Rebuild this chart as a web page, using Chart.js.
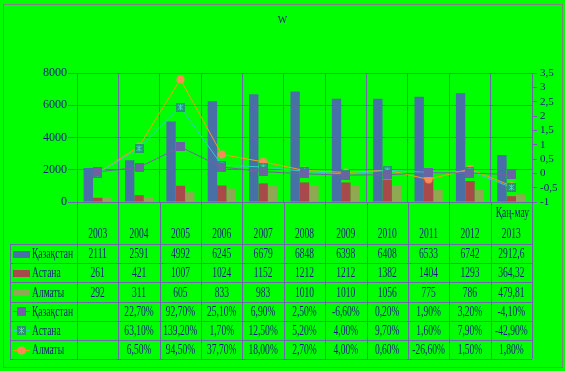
<!DOCTYPE html>
<html>
<head>
<meta charset="utf-8">
<script src="https://cdn.jsdelivr.net/npm/chart.js@4/dist/chart.umd.min.js"></script>
<style>
  body { margin: 0; background: #fff; }
</style>
</head>
<body>
<canvas id="myChart" width="565" height="371"></canvas>
<script>
let years = ["2003", "2004", "2005", "2006", "2007", "2008", "2009", "2010", "2011", "2012", "2013"];

// bars (left axis)
let kazValues = [2111, 2591, 4992, 6245, 6679, 6848, 6398, 6408, 6533, 6742, 2912.6];
let astanaValues = [261, 421, 1007, 1024, 1152, 1212, 1212, 1382, 1404, 1293, 364.32];
let almatyValues = [292, 311, 605, 833, 983, 1010, 1010, 1056, 775, 786, 479.81];

// lines (right axis)
let kazGrowth = [0.05, 0.21, 0.92, 0.22, 0.06, -0.02, -0.06, -0.05, 0.02, 0.01, -0.04];
let astanaGrowth = [0, 0.87, 2.31, 0.29, 0.22, 0.07, -0.03, 0.11, 0.03, 0.08, -0.49];
let almatyGrowth = [0, 0.94, 3.28, 0.66, 0.40, 0.10, 0.03, 0.11, -0.21, 0.15, -0.44];

// growth as printed in the data table
let kazGrowthText = ["", "22,70%", "92,70%", "25,10%", "6,90%", "2,50%", "-6,60%", "0,20%", "1,90%", "3,20%", "-4,10%"];
let astanaGrowthText = ["", "63,10%", "139,20%", "1,70%", "12,50%", "5,20%", "4,00%", "9,70%", "1,60%", "7,90%", "-42,90%"];
let almatyGrowthText = ["", "6,50%", "94,50%", "37,70%", "18,00%", "2,70%", "4,00%", "0,60%", "-26,60%", "1,50%", "1,80%"];

let seriesNames = ["Қазақстан", "Астана", "Алматы"];
let lastPeriod = "Қаң-мау";

let navy = '#1a1a80';
let gridColor = '#6f66ae';
let fontFamily = '"Liberation Serif", "DejaVu Serif", serif';

function makeMarker(kind) {
    let c = document.createElement('canvas');
    c.width = 9; c.height = 9;
    let g = c.getContext('2d');
    if (kind == 'square') {
        g.fillStyle = '#6a64a2';
        g.fillRect(0, 0, 9, 9);
    } else if (kind == 'star') {
        g.fillStyle = '#2f8f78';
        g.fillRect(0, 0, 9, 9);
        g.strokeStyle = '#3fd8d0';
        g.lineWidth = 1;
        g.beginPath();
        g.moveTo(4.5, 1.5); g.lineTo(4.5, 7.5);
        g.moveTo(2, 2); g.lineTo(7, 7);
        g.moveTo(7, 2); g.lineTo(2, 7);
        g.stroke();
    } else {
        g.fillStyle = '#ff8a58';
        g.beginPath();
        g.arc(4.5, 4.5, 4, 0, Math.PI * 2);
        g.fill();
    }
    return c;
}

let kazMarker = makeMarker('square');
let astanaMarker = makeMarker('star');
let almatyMarker = makeMarker('circle');

function fmt(v) {
    return String(v).replace('.', ',');
}

let bgPlugin = {
    id: 'bg',
    beforeDraw(chart) {
        let c = chart.ctx;
        c.save();
        c.fillStyle = '#00ff00';
        c.fillRect(0, 0, chart.width, chart.height);
        c.strokeStyle = '#808080';
        c.lineWidth = 1;
        c.strokeRect(3.5, 4.5, 559, 363);
        c.restore();
    }
};

let tablePlugin = {
    id: 'dataTable',
    afterDraw(chart) {
        let c = chart.ctx;
        let x = chart.scales.x;
        let area = chart.chartArea;
        let n = years.length;
        let colW = (area.right - area.left) / n;
        let rowH = 19.2;
        let top = 244;
        let bottom = top + rowH * 6;
        let labelLeft = 10;

        c.save();
        c.strokeStyle = gridColor;
        c.lineWidth = 1;
        c.beginPath();
        for (let i = 0; i <= n; i++) {
            let px = Math.round(area.left + i * colW) + 0.5;
            c.moveTo(px, area.bottom);
            c.lineTo(px, bottom);
        }
        for (let r = 0; r <= 6; r++) {
            let py = Math.round(top + r * rowH) + 0.5;
            c.moveTo(labelLeft, py);
            c.lineTo(area.right, py);
        }
        c.moveTo(labelLeft + 0.5, top);
        c.lineTo(labelLeft + 0.5, bottom);
        c.stroke();

        function text(str, cx, cy, align) {
            c.save();
            c.translate(cx, cy);
            c.scale(0.68, 1);
            c.textAlign = align || 'center';
            c.fillText(str, 0, 0);
            c.restore();
        }

        c.fillStyle = navy;
        c.font = '14px ' + fontFamily;
        c.textBaseline = 'middle';

        // header
        for (let i = 0; i < n; i++) {
            text(years[i], x.getPixelForValue(i), 234);
        }
        text(lastPeriod, area.right - 3, 213, 'right');

        let rows = [
            kazValues.map(fmt), astanaValues.map(fmt), almatyValues.map(fmt),
            kazGrowthText, astanaGrowthText, almatyGrowthText
        ];
        for (let r = 0; r < rows.length; r++) {
            let cy = top + rowH * r + rowH / 2 + 1;
            for (let i = 0; i < n; i++) {
                if (rows[r][i] !== '') text(rows[r][i], x.getPixelForValue(i), cy);
            }
        }

        // legend keys and names
        let barColors = chart.data.datasets.slice(0, 3).map(d => d.backgroundColor);
        let lineColors = chart.data.datasets.slice(3).map(d => d.borderColor);
        let markers = [kazMarker, astanaMarker, almatyMarker];
        for (let r = 0; r < 6; r++) {
            let cy = top + rowH * r + rowH / 2;
            if (r < 3) {
                c.fillStyle = barColors[r];
                c.fillRect(13, Math.round(cy) - 3, 17, 7);
            } else {
                c.strokeStyle = lineColors[r - 3];
                c.beginPath();
                c.moveTo(13, Math.round(cy) + 0.5);
                c.lineTo(30, Math.round(cy) + 0.5);
                c.stroke();
                c.drawImage(markers[r - 3], 17, Math.round(cy) - 4);
            }
            c.fillStyle = navy;
            text(seriesNames[r % 3], 32, cy + 1, 'left');
        }
        c.restore();
    }
};

let ctx = document.getElementById('myChart').getContext('2d');

let chart = new Chart(ctx, {
    type: 'bar',
    data: {
        labels: years,
        datasets: [
            { label: seriesNames[0], data: kazValues, backgroundColor: '#4870a6', yAxisID: 'y', order: 2 },
            { label: seriesNames[1], data: astanaValues, backgroundColor: '#a84a4a', yAxisID: 'y', order: 2 },
            { label: seriesNames[2], data: almatyValues, backgroundColor: '#8fa852', yAxisID: 'y', order: 2 },
            { type: 'line', label: seriesNames[0], data: kazGrowth, yAxisID: 'y1', order: 1,
              borderColor: '#7c5ea6', borderWidth: 1, pointStyle: kazMarker },
            { type: 'line', label: seriesNames[1], data: astanaGrowth, yAxisID: 'y1', order: 1,
              borderColor: '#38c8d0', borderWidth: 1, pointStyle: astanaMarker },
            { type: 'line', label: seriesNames[2], data: almatyGrowth, yAxisID: 'y1', order: 1,
              borderColor: '#ff9a10', borderWidth: 1, pointStyle: almatyMarker }
        ]
    },
    options: {
        responsive: false,
        animation: false,
        categoryPercentage: 0.68,
        barPercentage: 1.0,
        layout: { padding: { left: 0, right: 0, top: 0, bottom: 169 } },
        plugins: {
            legend: { display: false },
            tooltip: { enabled: false },
            title: {
                display: true,
                text: 'W',
                color: navy,
                font: { family: fontFamily, size: 10, weight: 'normal' },
                padding: { top: 14, bottom: 47 }
            }
        },
        scales: {
            x: {
                grid: { color: gridColor, offset: true, drawTicks: false },
                border: { color: gridColor },
                ticks: { display: false },
                afterFit: s => { s.height = 0; }
            },
            y: {
                position: 'left',
                min: 0,
                max: 8000,
                ticks: { stepSize: 2000, color: navy, padding: 1, font: { family: fontFamily, size: 12 },
                         callback: v => String(v) },
                grid: { color: gridColor, tickLength: 9 },
                border: { color: gridColor },
                afterFit: s => { s.width = 77; }
            },
            y1: {
                position: 'right',
                min: -1,
                max: 3.5,
                ticks: { stepSize: 0.5, autoSkip: false, color: navy, padding: 3,
                         font: { family: fontFamily, size: 11 },
                         callback: v => fmt(v) },
                grid: { drawOnChartArea: false, color: gridColor, tickLength: 5 },
                border: { color: gridColor },
                afterFit: s => { s.width = 33; }
            }
        }
    },
    plugins: [bgPlugin, tablePlugin]
});
</script>
</body>
</html>
